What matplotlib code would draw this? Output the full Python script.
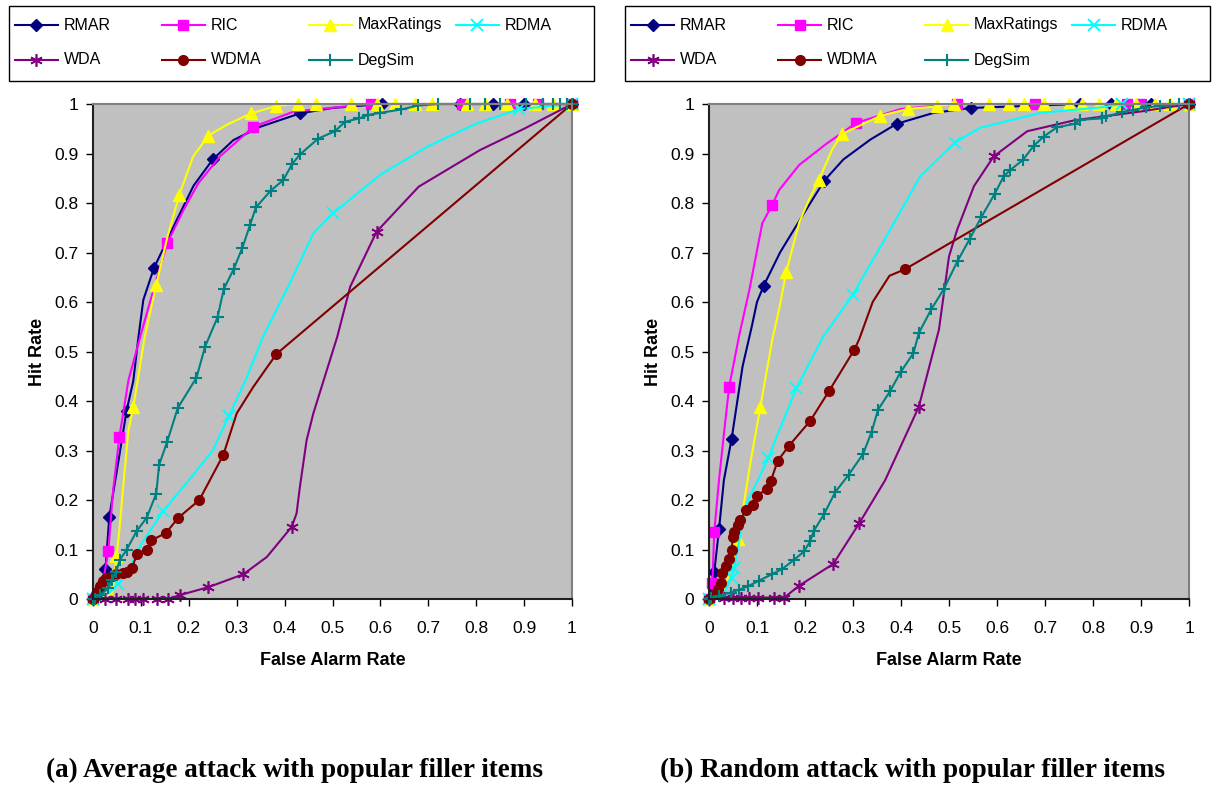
import matplotlib
matplotlib.use("Agg")
import matplotlib.pyplot as plt
from matplotlib.lines import Line2D
from matplotlib.patches import Rectangle

plt.rcParams['font.family'] = ['Liberation Sans', 'DejaVu Sans']

series_names = ['RMAR', 'RIC', 'MaxRatings', 'RDMA', 'WDA', 'WDMA', 'DegSim']
tick_vals = [0, 0.1, 0.2, 0.3, 0.4, 0.5, 0.6, 0.7, 0.8, 0.9, 1]
tick_labels = ['0', '0.1', '0.2', '0.3', '0.4', '0.5', '0.6', '0.7', '0.8', '0.9', '1']
captions = ['(a) Average attack with popular filler items',
            '(b) Random attack with popular filler items']

# ---- (a) average attack ----
rmar_a_x = [0, 0.015, 0.026, 0.034, 0.05, 0.07, 0.084, 0.095, 0.105, 0.127, 0.175, 0.21, 0.25, 0.293, 0.349, 0.432, 0.5, 0.603, 0.766, 0.835, 0.9, 1.0]
rmar_a_y = [0, 0.02, 0.06, 0.166, 0.26, 0.38, 0.44, 0.53, 0.604, 0.668, 0.766, 0.835, 0.888, 0.927, 0.954, 0.981, 0.992, 1, 1, 1, 1, 1]
rmar_a_m = [0, 2, 3, 5, 9, 12, 15, 17, 18, 19, 20, 21]

ric_a_x = [0, 0.02, 0.032, 0.042, 0.055, 0.074, 0.1, 0.126, 0.155, 0.189, 0.22, 0.265, 0.335, 0.42, 0.58, 0.77, 0.87, 0.93, 1.0]
ric_a_y = [0, 0.03, 0.097, 0.22, 0.327, 0.442, 0.535, 0.624, 0.719, 0.786, 0.84, 0.894, 0.954, 0.985, 1, 1, 1, 1, 1]
ric_a_m = [0, 2, 4, 8, 12, 14, 15, 16, 17, 18]

maxr_a_x = [0, 0.04, 0.049, 0.055, 0.063, 0.074, 0.084, 0.108, 0.132, 0.155, 0.18, 0.209, 0.241, 0.279, 0.33, 0.383, 0.428, 0.466, 0.538, 0.592, 0.63, 0.672, 0.707, 0.78, 0.818, 0.864, 0.923, 0.96, 1.0]
maxr_a_y = [0, 0.01, 0.087, 0.139, 0.227, 0.341, 0.387, 0.53, 0.634, 0.73, 0.816, 0.894, 0.936, 0.958, 0.981, 0.996, 1, 1, 1, 1, 1, 1, 1, 1, 1, 1, 1, 1, 1]
maxr_a_m = [0, 2, 6, 8, 10, 12, 14, 15, 16, 17, 18, 19, 20, 21, 22, 23, 24, 25, 26, 27, 28]

rdma_a_x = [0, 0.03, 0.053, 0.08, 0.1, 0.147, 0.2, 0.25, 0.284, 0.32, 0.355, 0.411, 0.46, 0.502, 0.6, 0.7, 0.8, 0.89, 1.0]
rdma_a_y = [0, 0.01, 0.03, 0.07, 0.11, 0.178, 0.24, 0.3, 0.37, 0.445, 0.53, 0.638, 0.739, 0.78, 0.857, 0.915, 0.96, 0.99, 1.0]
rdma_a_m = [0, 2, 5, 8, 13, 17, 18]

wda_a_x = [0, 0.025, 0.049, 0.074, 0.088, 0.105, 0.133, 0.157, 0.182, 0.241, 0.314, 0.363, 0.415, 0.425, 0.432, 0.446, 0.46, 0.51, 0.537, 0.592, 0.68, 0.808, 0.9, 1.0]
wda_a_y = [0, 0, 0, 0, 0, 0, 0, 0, 0.008, 0.024, 0.05, 0.085, 0.146, 0.173, 0.227, 0.321, 0.375, 0.53, 0.631, 0.742, 0.833, 0.907, 0.95, 1.0]
wda_a_m = [0, 1, 2, 3, 4, 5, 6, 7, 8, 9, 10, 12, 19, 23]

wdma_a_x = [0, 0.007, 0.01, 0.014, 0.021, 0.028, 0.039, 0.049, 0.063, 0.07, 0.081, 0.092, 0.112, 0.122, 0.152, 0.178, 0.222, 0.272, 0.3, 0.335, 0.383, 1.0]
wdma_a_y = [0, 0.01, 0.017, 0.027, 0.037, 0.042, 0.047, 0.051, 0.053, 0.055, 0.062, 0.091, 0.1, 0.119, 0.133, 0.164, 0.2, 0.291, 0.375, 0.429, 0.495, 1.0]
wdma_a_m = [0, 1, 2, 3, 4, 5, 6, 7, 8, 9, 10, 11, 12, 13, 14, 15, 16, 17, 20, 21]

deg_a_x = [0, 0.004, 0.015, 0.032, 0.039, 0.048, 0.056, 0.07, 0.091, 0.112, 0.132, 0.138, 0.155, 0.177, 0.216, 0.234, 0.26, 0.273, 0.294, 0.312,
           0.328, 0.34, 0.371, 0.397, 0.416, 0.432, 0.47, 0.505, 0.526, 0.556, 0.575, 0.599, 0.644, 0.679, 0.721, 0.787, 0.818, 0.85, 0.905, 0.94,
           0.96, 0.975, 0.99, 1.0]
deg_a_y = [0, 0.001, 0.008, 0.022, 0.038, 0.054, 0.079, 0.099, 0.137, 0.164, 0.213, 0.271, 0.318, 0.386, 0.447, 0.51, 0.569, 0.626, 0.667, 0.71,
           0.756, 0.791, 0.825, 0.846, 0.879, 0.898, 0.93, 0.945, 0.964, 0.971, 0.978, 0.982, 0.989, 0.997, 1, 1, 1, 1, 1, 1,
           1, 1, 1, 1]
deg_a_m = list(range(len(deg_a_x)))

# ---- (b) random attack ----
rmar_b_x = [0, 0.011, 0.021, 0.031, 0.047, 0.07, 0.089, 0.1, 0.114, 0.148, 0.19, 0.24, 0.28, 0.336, 0.391, 0.468, 0.545, 0.772, 0.838, 0.92, 1.0]
rmar_b_y = [0, 0.055, 0.142, 0.24, 0.323, 0.47, 0.55, 0.6, 0.633, 0.7, 0.767, 0.845, 0.888, 0.928, 0.96, 0.982, 0.992, 1, 1, 1, 1]
rmar_b_m = [0, 1, 2, 4, 8, 11, 14, 16, 17, 18, 19, 20]

ric_b_x = [0, 0.007, 0.007, 0.011, 0.021, 0.032, 0.042, 0.063, 0.084, 0.111, 0.131, 0.146, 0.188, 0.245, 0.307, 0.4, 0.516, 0.679, 0.87, 0.9, 1.0]
ric_b_y = [0, 0.006, 0.033, 0.136, 0.242, 0.342, 0.429, 0.533, 0.624, 0.759, 0.795, 0.826, 0.877, 0.92, 0.962, 0.99, 1, 1, 1, 1, 1]
ric_b_m = [0, 2, 3, 6, 10, 14, 16, 17, 18, 19, 20]

maxr_b_x = [0, 0.03, 0.049, 0.061, 0.086, 0.107, 0.132, 0.146, 0.161, 0.188, 0.209, 0.229, 0.257, 0.278, 0.357, 0.414, 0.474, 0.51, 0.583, 0.625,
            0.656, 0.698, 0.75, 0.778, 0.813, 0.848, 0.89, 0.93, 0.96, 1.0]
maxr_b_y = [0, 0.013, 0.074, 0.122, 0.274, 0.388, 0.525, 0.585, 0.661, 0.761, 0.808, 0.847, 0.909, 0.94, 0.976, 0.99, 0.995, 1, 1, 1,
            1, 1, 1, 1, 1, 1, 1, 1, 1, 1]
maxr_b_m = [0, 3, 5, 8, 11, 13, 14, 15, 16, 17, 18, 19, 20, 21, 22, 23, 24, 25, 26, 27, 28, 29]

rdma_b_x = [0, 0.03, 0.047, 0.052, 0.078, 0.099, 0.123, 0.182, 0.238, 0.299, 0.37, 0.44, 0.512, 0.565, 0.69, 0.815, 0.861, 1.0]
rdma_b_y = [0, 0.01, 0.042, 0.062, 0.193, 0.234, 0.284, 0.426, 0.53, 0.614, 0.733, 0.854, 0.922, 0.952, 0.982, 0.993, 1.0, 1.0]
rdma_b_m = [0, 2, 3, 6, 7, 9, 12, 16, 17]

wda_b_x = [0, 0.031, 0.049, 0.067, 0.084, 0.102, 0.136, 0.157, 0.188, 0.259, 0.313, 0.367, 0.437, 0.479, 0.5, 0.517, 0.552, 0.593, 0.663, 0.761, 0.9, 1.0]
wda_b_y = [0, 0.003, 0.003, 0.003, 0.003, 0.003, 0.003, 0.003, 0.027, 0.071, 0.153, 0.24, 0.388, 0.544, 0.692, 0.746, 0.834, 0.894, 0.945, 0.967, 0.985, 1.0]
wda_b_m = [0, 1, 2, 3, 4, 5, 6, 7, 8, 9, 10, 12, 17, 21]

wdma_b_x = [0, 0.011, 0.018, 0.025, 0.028, 0.035, 0.042, 0.048, 0.049, 0.052, 0.06, 0.064, 0.078, 0.092, 0.099, 0.12, 0.129, 0.143, 0.167, 0.211,
            0.25, 0.303, 0.313, 0.341, 0.376, 0.408, 1.0]
wdma_b_y = [0, 0.01, 0.02, 0.033, 0.053, 0.067, 0.08, 0.1, 0.126, 0.136, 0.15, 0.16, 0.18, 0.19, 0.208, 0.222, 0.239, 0.279, 0.31, 0.36,
            0.42, 0.504, 0.525, 0.6, 0.653, 0.666, 1.0]
wdma_b_m = [i for i in range(len(wdma_b_x)) if i not in (22, 23, 24)]

deg_b_x = [0, 0.004, 0.021, 0.045, 0.063, 0.082, 0.104, 0.131, 0.153, 0.177, 0.198, 0.211, 0.218, 0.24, 0.263, 0.291, 0.321, 0.339, 0.352, 0.378,
           0.399, 0.426, 0.437, 0.463, 0.489, 0.518, 0.543, 0.567, 0.595, 0.614, 0.628, 0.654, 0.677, 0.697, 0.725, 0.762, 0.773, 0.818, 0.828, 0.86,
           0.883, 0.91, 0.94, 0.96, 0.98, 1.0]
deg_b_y = [0, 0.003, 0.007, 0.013, 0.019, 0.026, 0.037, 0.05, 0.061, 0.079, 0.096, 0.117, 0.137, 0.172, 0.216, 0.251, 0.293, 0.338, 0.382, 0.421,
           0.458, 0.497, 0.537, 0.585, 0.626, 0.683, 0.727, 0.771, 0.818, 0.854, 0.867, 0.887, 0.916, 0.934, 0.953, 0.96, 0.968, 0.971, 0.975, 0.983,
           0.988, 0.993, 0.996, 0.998, 1.0, 1.0]
deg_b_m = list(range(len(deg_b_x)))

panel_a = [(rmar_a_x, rmar_a_y, rmar_a_m), (ric_a_x, ric_a_y, ric_a_m), (maxr_a_x, maxr_a_y, maxr_a_m),
           (rdma_a_x, rdma_a_y, rdma_a_m), (wda_a_x, wda_a_y, wda_a_m), (wdma_a_x, wdma_a_y, wdma_a_m),
           (deg_a_x, deg_a_y, deg_a_m)]
panel_b = [(rmar_b_x, rmar_b_y, rmar_b_m), (ric_b_x, ric_b_y, ric_b_m), (maxr_b_x, maxr_b_y, maxr_b_m),
           (rdma_b_x, rdma_b_y, rdma_b_m), (wda_b_x, wda_b_y, wda_b_m), (wdma_b_x, wdma_b_y, wdma_b_m),
           (deg_b_x, deg_b_y, deg_b_m)]

# look of each series (excel default palette)
styles = [
    dict(color='#000080', marker='D', ms=6.5),
    dict(color='#FF00FF', marker='s', ms=6.5),
    dict(color='#FFFF00', marker='^', ms=8.5),
    dict(color='#00FFFF', marker='x', ms=8, mew=1.4),
    dict(color='#800080', marker=(6, 2, 0), ms=9, mew=1.2),
    dict(color='#800000', marker='o', ms=7),
    dict(color='#008080', marker='+', ms=9, mew=1.5),
]

W, H = 1212, 785
fig = plt.figure(figsize=(W / 100, H / 100), dpi=100)
ax_a = fig.add_axes([93 / W, 1 - 599 / H, 479 / W, 495 / H])
ax_b = fig.add_axes([709 / W, 1 - 599 / H, 480 / W, 495 / H])


def draw_panel(ax, panel):
    for (xs, ys, marks), st, name in zip(panel, styles, series_names):
        ax.plot(xs, ys, color=st['color'], lw=1.5, marker=st['marker'], ms=st['ms'],
                mew=st.get('mew', 1), mfc=st['color'], mec=st['color'],
                markevery=marks, clip_on=False, label=name)
    ax.set_facecolor('#C0C0C0')
    ax.set_xlim(0, 1)
    ax.set_ylim(0, 1)
    ax.set_xticks(tick_vals)
    ax.set_xticklabels(tick_labels)
    ax.set_yticks(tick_vals)
    ax.set_yticklabels(tick_labels)
    ax.tick_params(axis='x', direction='out', length=5, width=1, pad=11, labelsize=12.5)
    ax.tick_params(axis='y', direction='out', length=5, width=1, pad=5.5, labelsize=12.5)
    for side in ['top', 'right']:
        ax.spines[side].set_color('#808080')
        ax.spines[side].set_linewidth(1.5)
    for side in ['left', 'bottom']:
        ax.spines[side].set_color('#202020')
        ax.spines[side].set_linewidth(1.5)
    ax.set_xlabel('False Alarm Rate', fontsize=13, fontweight='bold')
    ax.set_ylabel('Hit Rate', fontsize=13, fontweight='bold')
    ax.xaxis.set_label_coords(0.5, -0.107)
    ax.yaxis.set_label_coords(-0.098, 0.5)


def draw_legend(left):
    # excel style legend: fixed column width, row-major order
    fig.add_artist(Rectangle((left / W, 1 - 81 / H), 585 / W, 75 / H, transform=fig.transFigure,
                             fill=False, edgecolor='black', lw=1.0))
    for i, (st, name) in enumerate(zip(styles, series_names)):
        row, col = divmod(i, 4)
        x0 = left + 6 + col * 147
        yc = 1 - (25 + row * 35) / H
        fig.add_artist(Line2D([x0 / W, (x0 + 43) / W], [yc, yc], transform=fig.transFigure,
                              color=st['color'], lw=1.5))
        fig.add_artist(Line2D([(x0 + 21.5) / W], [yc], transform=fig.transFigure, ls='none',
                              marker=st['marker'], ms=st['ms'], mew=st.get('mew', 1),
                              mfc=st['color'], mec=st['color']))
        fig.text((x0 + 49) / W, yc, name, ha='left', va='center', fontsize=11.5)


for ax, panel, left, cap, cx in zip([ax_a, ax_b], [panel_a, panel_b], [8.5, 625], captions, [295, 912]):
    draw_panel(ax, panel)
    draw_legend(left)
    fig.text(cx / W, 1 - 770 / H, cap, ha='center', va='center', fontsize=19.5, fontweight='bold',
             family=['Liberation Serif', 'DejaVu Serif'])

fig.savefig('out.png', dpi=100)
